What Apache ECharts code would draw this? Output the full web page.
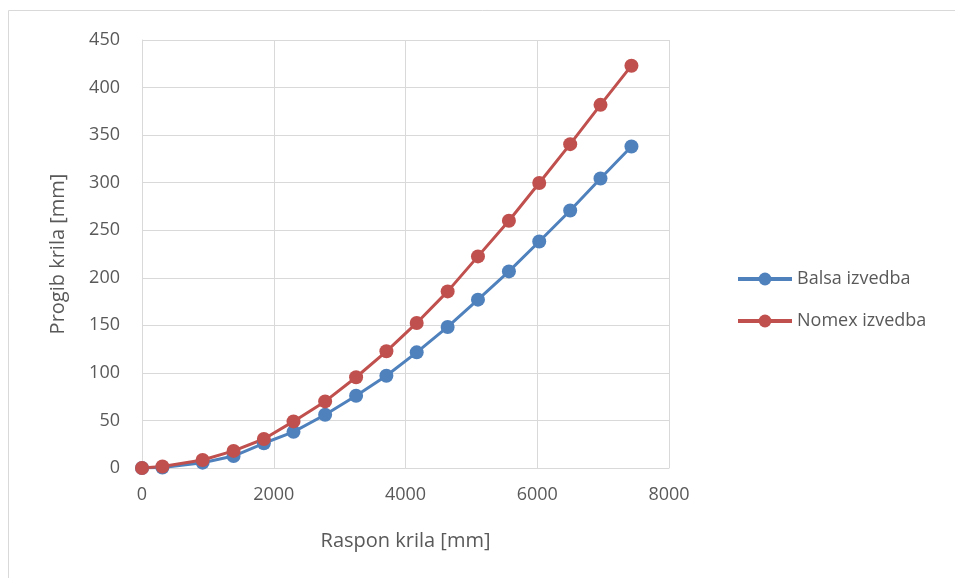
<!DOCTYPE html>
<html>
<head>
<meta charset="utf-8">
<script src="https://cdn.jsdelivr.net/npm/echarts@6/dist/echarts.min.js"></script>
<style>
  html, body { margin: 0; padding: 0; background: #fff; }
  #chart { width: 955px; height: 578px; }
</style>
</head>
<body>
<div id="chart"></div>
<script>
// raspon krila [mm]
const raspon = [0, 310, 920, 1390, 1850, 2300, 2780, 3250, 3710, 4170, 4640, 5100, 5570, 6030, 6500, 6960, 7430];
const balsa = [0, 0.5, 5.6, 12.6, 26, 38, 56, 76, 97, 121.6, 148.3, 177, 206.7, 238.2, 270.8, 304.4, 338];
const nomex = [0, 1.5, 8.4, 18, 30.5, 49, 70, 95.4, 122.7, 152.5, 185.7, 222.5, 260, 299.6, 340.5, 381.8, 423];
const seriesNames = ["Balsa izvedba", "Nomex izvedba"];

const chart = echarts.init(document.getElementById("chart"));
const txt = "#595959";
const font = "'Open Sans', 'Noto Sans', sans-serif";

const pairs = (ys) => raspon.map((x, i) => [x, ys[i]]);

chart.setOption({
  animation: false,
  textStyle: { fontFamily: font },
  graphic: [{
    type: "rect",
    shape: { x: 8.5, y: 10.5, width: 960, height: 600 },
    style: { fill: "none", stroke: "#d9d9d9", lineWidth: 1 }
  }],
  grid: { left: 142, right: 286, top: 40, bottom: 110 },
  xAxis: {
    type: "value",
    min: 0, max: 8000, interval: 2000,
    name: "Raspon krila [mm]",
    nameLocation: "middle",
    nameGap: 63,
    nameTextStyle: { color: txt, fontSize: 20, fontFamily: font },
    axisLine: { show: true, lineStyle: { color: "#d9d9d9", width: 1 } },
    axisTick: { show: false },
    axisLabel: { color: txt, fontSize: 18, margin: 18, fontFamily: font, formatter: (v) => String(v) },
    splitLine: { show: true, lineStyle: { color: "#d9d9d9", width: 1 } }
  },
  yAxis: {
    type: "value",
    min: 0, max: 450, interval: 50,
    name: "Progib krila [mm]",
    nameLocation: "middle",
    nameGap: 74,
    nameTextStyle: { color: txt, fontSize: 20, fontFamily: font },
    axisLine: { show: true, lineStyle: { color: "#d9d9d9", width: 1 } },
    axisTick: { show: false },
    axisLabel: { color: txt, fontSize: 18, margin: 22, fontFamily: font },
    splitLine: { show: true, lineStyle: { color: "#d9d9d9", width: 1 } }
  },
  legend: {
    orient: "vertical",
    left: 731,
    top: 265,
    itemGap: 24,
    itemWidth: 54,
    itemHeight: 16,
    lineStyle: { width: 4 },
    textStyle: { color: txt, fontSize: 18, fontFamily: font },
    data: seriesNames
  },
  series: [
    {
      name: seriesNames[0],
      type: "line",
      data: pairs(balsa),
      symbol: "circle",
      symbolSize: 14,
      lineStyle: { color: "#4F81BD", width: 3 },
      itemStyle: { color: "#4F81BD" }
    },
    {
      name: seriesNames[1],
      type: "line",
      data: pairs(nomex),
      symbol: "circle",
      symbolSize: 14,
      lineStyle: { color: "#C0504D", width: 3 },
      itemStyle: { color: "#C0504D" }
    }
  ]
});
</script>
</body>
</html>
